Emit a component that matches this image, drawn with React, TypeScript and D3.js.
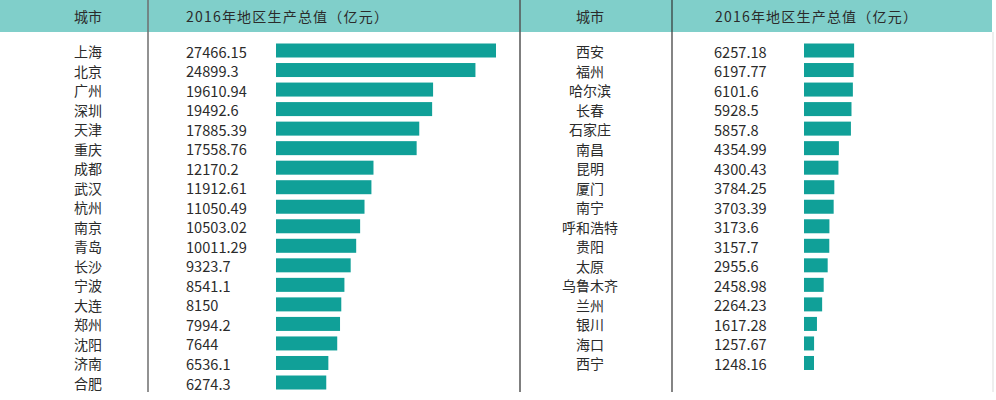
import React from "react";
import * as d3 from "d3";

const leftCities = ["上海","北京","广州","深圳","天津","重庆","成都","武汉","杭州","南京","青岛","长沙","宁波","大连","郑州","沈阳","济南","合肥"];
const leftValues = [27466.15,24899.3,19610.94,19492.6,17885.39,17558.76,12170.2,11912.61,11050.49,10503.02,10011.29,9323.7,8541.1,8150,7994.2,7644,6536.1,6274.3];
const rightCities = ["西安","福州","哈尔滨","长春","石家庄","南昌","昆明","厦门","南宁","呼和浩特","贵阳","太原","乌鲁木齐","兰州","银川","海口","西宁"];
const rightValues = [6257.18,6197.77,6101.6,5928.5,5857.8,4354.99,4300.43,3784.25,3703.39,3173.6,3157.7,2955.6,2458.98,2264.23,1617.28,1257.67,1248.16];
const headerCity = "城市";
const headerValue = "2016年地区生产总值（亿元）";

const W = 996, H = 400;
const FONT = "'Noto Sans CJK SC', 'Noto Sans', sans-serif";
const TEXT = "#2b2b2b";
const BAR = "#10a098";
const HEAD = "#80cfca";

const x = d3.scaleLinear().domain([0, 27466.15]).range([0, 220]);
const rowY = d3.scaleLinear().domain([0, 1]).range([51, 51 + 19.53]);

function Table({ cities, values, cityX, valueX, barX }: any) {
  return (
    <g>
      {cities.map((c: string, i: number) => {
        const cy = rowY(i);
        return (
          <g key={c}>
            <text x={cityX} y={cy} textAnchor="middle" dominantBaseline="central" fontSize={14} fill={TEXT} fontFamily={FONT}>{c}</text>
            <text x={valueX} y={cy} dominantBaseline="central" fontSize={14.6} fill={TEXT} fontFamily={FONT}>{String(values[i])}</text>
            <rect x={barX} y={cy - 7.5} width={x(values[i])} height={14} fill={BAR} />
          </g>
        );
      })}
    </g>
  );
}

export default function App() {
  return (
    <svg width={W} height={H} style={{ position: "absolute", left: 0, top: 0, background: "#fff" }}>
      <rect x={0} y={0} width={992} height={32} fill={HEAD} />
      <line x1={148} y1={0} x2={148} y2={392} stroke="#6e6e6e" strokeWidth={1.5} />
      <line x1={520} y1={0} x2={520} y2={392} stroke="#555" strokeWidth={1.5} />
      <line x1={672} y1={0} x2={672} y2={392} stroke="#333" strokeWidth={1.2} />
      <line x1={993} y1={32} x2={993} y2={392} stroke="#ddd" strokeWidth={1} />
      <text x={88} y={16} textAnchor="middle" dominantBaseline="central" fontSize={14} fill={TEXT} fontFamily={FONT}>{headerCity}</text>
      <text x={186} y={16} dominantBaseline="central" fontSize={14} letterSpacing={1.2} fill={TEXT} fontFamily={FONT}>{headerValue}</text>
      <text x={590} y={16} textAnchor="middle" dominantBaseline="central" fontSize={14} fill={TEXT} fontFamily={FONT}>{headerCity}</text>
      <text x={715} y={16} dominantBaseline="central" fontSize={14} letterSpacing={1.2} fill={TEXT} fontFamily={FONT}>{headerValue}</text>
      <Table cities={leftCities} values={leftValues} cityX={88} valueX={186} barX={276} />
      <Table cities={rightCities} values={rightValues} cityX={590} valueX={714} barX={804} />
    </svg>
  );
}
